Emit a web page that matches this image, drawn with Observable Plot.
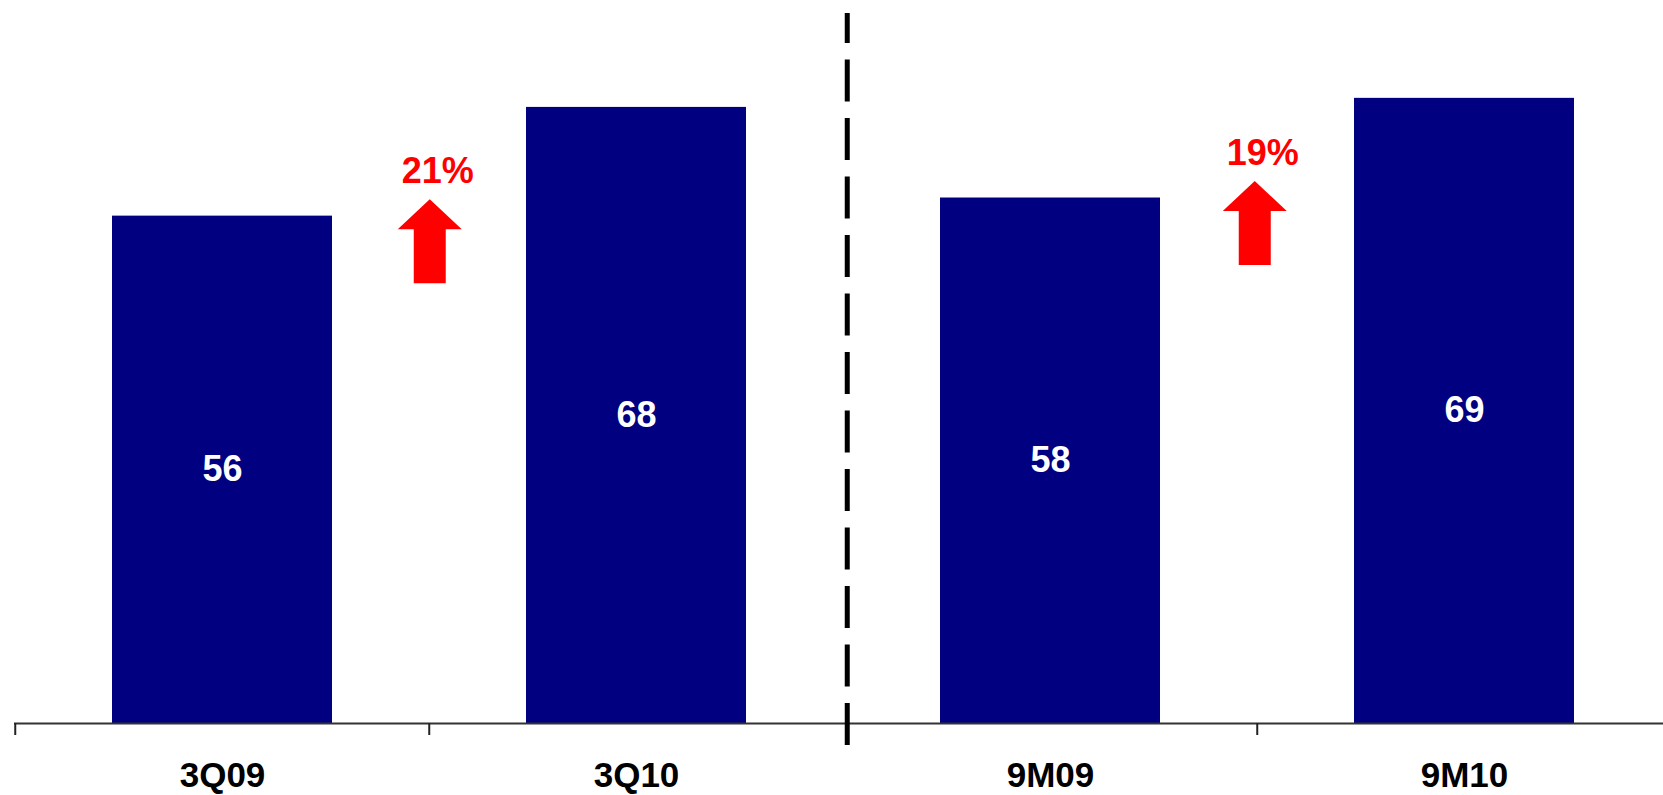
<!DOCTYPE html>
<html>
<head>
<meta charset="utf-8">
<script src="https://cdn.jsdelivr.net/npm/d3@7"></script>
<script src="https://cdn.jsdelivr.net/npm/@observablehq/plot@0.6"></script>
<style>
  html, body { margin: 0; padding: 0; background: #fff; overflow: hidden; }
  #chart svg { display: block; }
</style>
</head>
<body>
<div id="chart"></div>
<script>
// ---- data ----
const categories = ["3Q09", "3Q10", "9M09", "9M10"];
const values = [56, 68, 58, 69];
const growthFrom = ["3Q09", "9M09"];
const growthLabels = ["21%", "19%"];

// ---- layout ----
const width = 1663, height = 795;
const marginTop = 0, marginBottom = 72, marginLeft = 14, marginRight = -9;
const yMax = 79.8;
const step = (width - marginLeft - marginRight) / categories.length;
const ppu = (height - marginTop - marginBottom) / yMax; // pixels per unit
const fs = 36, fsCat = 35;

const bars = categories.map((c, i) => ({cat: c, value: values[i]}));
const growth = growthFrom.map((c, i) => ({from: c, base: values[categories.indexOf(c)], label: growthLabels[i], shift: i === 0 ? 0 : -3}));

// block arrow symbol (pixel units, origin = top of the first bar)
const arrowSymbol = {
  draw(ctx, size) {
    const s = Math.sqrt(size / Math.PI) / 10;
    const apex = -17 * s, headBase = 13 * s, bottom = 67 * s;
    const hw = 32 * s, sw = 16 * s;
    ctx.moveTo(0, apex);
    ctx.lineTo(hw, headBase);
    ctx.lineTo(sw, headBase);
    ctx.lineTo(sw, bottom);
    ctx.lineTo(-sw, bottom);
    ctx.lineTo(-sw, headBase);
    ctx.lineTo(-hw, headBase);
    ctx.closePath();
  }
};

const tickLen = 12 / ppu;
// category boundary ticks (the one under the dashed divider is hidden by it)
const boundaries = [
  {cat: categories[0], dx: -step / 2},
  {cat: categories[1], dx: -step / 2},
  {cat: categories[3], dx: -step / 2},
  {cat: categories[3], dx: step / 2}
];

const chart = Plot.plot({
  width, height, marginTop, marginBottom, marginLeft, marginRight,
  style: {fontFamily: "'Liberation Sans', Arial, Helvetica, sans-serif", background: "white"},
  x: {type: "band", domain: categories, paddingInner: 0.469, paddingOuter: 0.2345, axis: null},
  y: {domain: [0, yMax], axis: null},
  marks: [
    Plot.barY(bars, {x: "cat", y: "value", fill: "#000080"}),
    Plot.text(bars, {x: "cat", y: d => d.value / 2, text: d => String(d.value), fill: "white", fontSize: fs, fontWeight: "bold"}),
    Plot.ruleY([0], {stroke: "#333", strokeWidth: 2}),
    ...boundaries.map(b => Plot.ruleX([b.cat], {x: d => d, dx: b.dx, y1: 0, y2: -tickLen, stroke: "#222", strokeWidth: 2})),
    Plot.ruleX([categories[2]], {x: d => d, dx: -step / 2 + 4, y1: yMax - 13 / ppu, y2: -24 / ppu, stroke: "black", strokeWidth: 5, strokeDasharray: "42,16.5", strokeDashoffset: 12}),
    Plot.text(categories, {x: d => d, y: 0, dy: 51.8, text: d => d, fill: "black", fontSize: fsCat, fontWeight: "bold"}),
    ...growth.map(g => Plot.dot([g], {x: "from", y: "base", dx: step / 2 + g.shift, symbol: arrowSymbol, r: 10, fill: "#ff0000", stroke: "none"})),
    ...growth.map(g => Plot.text([g], {x: "from", y: "base", dx: step / 2 + 8 + g.shift, dy: -45, text: "label", fill: "#ff0000", fontSize: fs, fontWeight: "bold"}))
  ]
});
document.getElementById("chart").appendChild(chart);
</script>
</body>
</html>
